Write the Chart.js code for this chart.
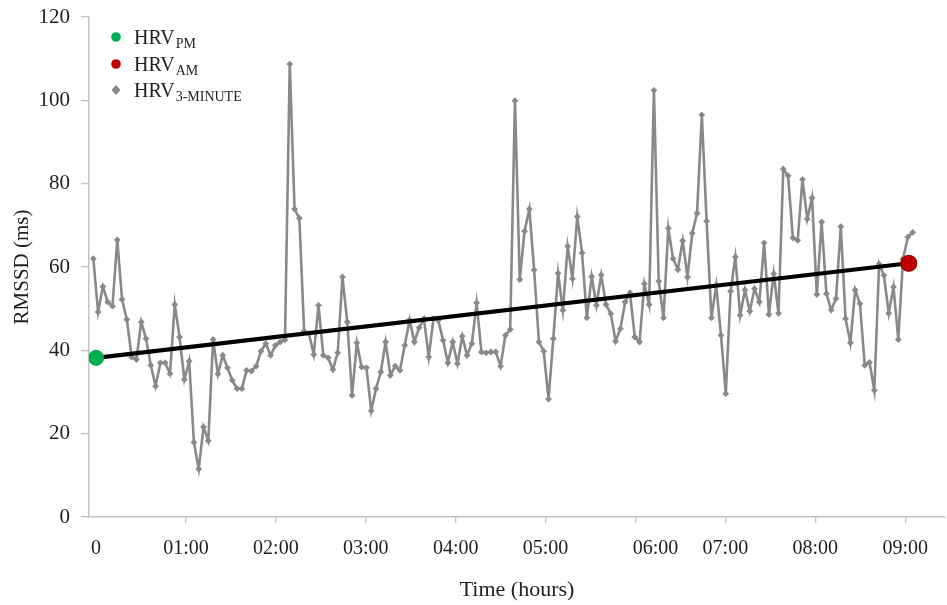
<!DOCTYPE html>
<html>
<head>
<meta charset="utf-8">
<script src="https://cdn.jsdelivr.net/npm/chart.js@4.4.1/dist/chart.umd.min.js"></script>
<style>
  html, body { margin: 0; padding: 0; background: #ffffff; }
  #wrap { width: 947px; height: 605px; }
</style>
</head>
<body>
<div id="wrap"><canvas id="c" width="947" height="605"></canvas></div>
<script>
// ---------------- data ----------------
// x-axis hour ticks
const hourTicks = [0, 1, 2, 3, 4, 5, 6, 7, 8, 9];
const hourLabels = ["0", "01:00", "02:00", "03:00", "04:00", "05:00", "06:00", "07:00", "08:00", "09:00"];
// y-axis ticks
const yTicks = [0, 20, 40, 60, 80, 100, 120];

// HRV 3-minute RMSSD samples (ms), in time order
const hrv3min = [
  62, 49.2, 55.3, 51.6, 50.6, 66.5, 52.2, 47.4, 38.4, 37.8,
  46.8, 42.8, 36.4, 31.4, 37, 37, 34.4, 51, 43.2, 33,
  37.4, 17.9, 11.5, 21.6, 18.3, 42.6, 34.3, 38.8, 35.8, 32.8,
  30.8, 30.8, 35.2, 35, 36.2, 39.8, 41.6, 38.8, 41.2, 42,
  42.5, 108.7, 73.9, 71.7, 44.6, 44, 39, 50.8, 38.8, 38.2,
  35.4, 39.4, 57.6, 46.8, 29.2, 41.8, 36, 35.8, 25.5, 30.8,
  34.8, 42, 34, 36.2, 35.2, 41.2, 47.3, 42, 45.4, 47.6,
  38.4, 47.6, 47.2, 42.4, 37, 42, 36.8, 43.4, 38.8, 41.6,
  51.4, 39.6, 39.4, 39.6, 39.6, 36.2, 43.6, 45, 99.9, 57,
  68.6, 73.9, 59.3, 42, 39.8, 28.3, 42.8, 58.5, 49.6, 65,
  57.2, 72.1, 63.4, 47.8, 57.7, 50.8, 58.1, 51, 48.8, 42.2,
  45.2, 51.6, 53.8, 43.2, 42, 56, 51, 102.4, 56.6, 47.8,
  69.3, 62, 59.4, 66.3, 57.6, 68.1, 72.9, 96.5, 71, 47.8,
  55.6, 43.6, 29.6, 54.2, 62.4, 48.4, 54.5, 49.4, 54.8, 51.6,
  65.8, 48.6, 58.4, 48.9, 83.5, 81.9, 67, 66.4, 81, 71.5,
  76.6, 53.4, 70.8, 53.6, 49.7, 52.4, 69.7, 47.6, 41.8, 54.5,
  51.2, 36.4, 37.1, 30.4, 60.7, 58, 48.9, 55.2, 42.6, 62,
  67.2, 68.3
];
// sampling grid of the 3-minute series (hours): first sample time and spacing
const sampleStartH = -0.031;
const sampleStepH = 0.0533;

// HRV PM (start of night) and HRV AM (end of night)
const hrvPM = { time: 0, value: 38.2 };
const hrvAM = { time: 9.04, value: 60.9 };

// legend entries
const legendMain = "HRV";
const legendSubs = ["PM", "AM", "3-MINUTE"];

// ---------------- styles ----------------
const GRAY = "#898989";
const GREEN = "#00b050";
const RED = "#c00000";
const AXIS = "#c3c3c3";
const TEXT = "#1f1f1f";
const SERIF = "'Liberation Serif', 'Times New Roman', Times, serif";

const hrvPoints = hrv3min.map((v, i) => ({ x: sampleStartH + i * sampleStepH, y: v }));

const subLegend = {
  id: 'subLegend',
  afterDatasetsDraw(chart) {
    const ctx = chart.ctx;
    const L = chart.chartArea.left, T = chart.chartArea.top;
    const rows = [
      { dy: 20, marker: 'circle', color: GREEN },
      { dy: 47, marker: 'circle', color: RED },
      { dy: 73, marker: 'diamond', color: GRAY }
    ];
    ctx.save();
    rows.forEach((r, i) => {
      const mx = L + 27, my = T + r.dy;
      ctx.fillStyle = r.color;
      ctx.beginPath();
      if (r.marker === 'circle') {
        ctx.arc(mx, my, 4.8, 0, Math.PI * 2);
      } else {
        ctx.moveTo(mx, my - 5); ctx.lineTo(mx + 4.5, my); ctx.lineTo(mx, my + 5); ctx.lineTo(mx - 4.5, my);
        ctx.closePath();
      }
      ctx.fill();
      ctx.fillStyle = TEXT;
      ctx.textBaseline = 'alphabetic';
      ctx.textAlign = 'left';
      ctx.font = "20px " + SERIF;
      const tx = L + 45;
      const base = my + 7;
      ctx.fillText(legendMain, tx, base);
      const w = ctx.measureText(legendMain).width;
      ctx.font = "14px " + SERIF;
      ctx.fillText(legendSubs[i], tx + w + 1, base + 4);
    });
    ctx.restore();
  }
};

new Chart(document.getElementById('c'), {
  type: 'scatter',
  data: {
    datasets: [
      {
        label: 'HRV PM',
        data: [{ x: hrvPM.time, y: hrvPM.value }],
        pointStyle: 'circle', pointRadius: 7.5,
        backgroundColor: GREEN, borderColor: '#00a048', borderWidth: 1,
        order: 0
      },
      {
        label: 'HRV AM',
        data: [{ x: hrvAM.time, y: hrvAM.value }],
        pointStyle: 'circle', pointRadius: 8,
        backgroundColor: RED, borderColor: '#900000', borderWidth: 1.2,
        order: 1
      },
      {
        label: 'trend',
        data: [{ x: hrvPM.time, y: hrvPM.value }, { x: hrvAM.time, y: hrvAM.value }],
        showLine: true, borderColor: '#000000', borderWidth: 4.2,
        pointRadius: 0, order: 2
      },
      {
        label: 'HRV 3-minute',
        data: hrvPoints,
        showLine: true, borderColor: GRAY, borderWidth: 2.6, tension: 0,
        pointStyle: 'rectRot', pointRadius: 3.4, backgroundColor: GRAY, pointBorderColor: GRAY, pointBorderWidth: 0,
        order: 3
      }
    ]
  },
  options: {
    responsive: false,
    animation: false,
    events: [],
    layout: { autoPadding: false, padding: { top: 17, right: 2, left: 0, bottom: 0 } },
    plugins: { legend: { display: false }, tooltip: { enabled: false } },
    scales: {
      x: {
        type: 'linear',
        min: -0.079, max: 9.443,
        afterBuildTicks: (s) => { s.ticks = hourTicks.map(v => ({ value: v })); },
        afterFit: (s) => { s.height = 88; s.paddingLeft = 0; s.paddingRight = 0; },
        ticks: {
          // the 06:00 label sits a little right of its tick in the original
          callback: (v) => (v === 6 ? '\u2002\u2002\u2002\u2002' : '') + hourLabels[hourTicks.indexOf(v)],
          font: { family: SERIF, size: 20 }, color: TEXT, padding: 14, maxRotation: 0, autoSkip: false
        },
        grid: {
          drawOnChartArea: false, drawTicks: true, tickLength: 6,
          color: (c) => (c.tick && c.tick.value === 0) ? 'rgba(0,0,0,0)' : AXIS, lineWidth: 1.3
        },
        border: { display: true, color: AXIS, width: 1.5 },
        title: {
          display: true, text: 'Time (hours)',
          font: { family: SERIF, size: 22 }, color: TEXT, padding: { top: 0, bottom: 2 }
        }
      },
      y: {
        min: 0, max: 120,
        afterBuildTicks: (s) => { s.ticks = yTicks.map(v => ({ value: v })); },
        afterFit: (s) => { s.width = 89; s.paddingTop = 0; s.paddingBottom = 0; },
        ticks: { font: { family: SERIF, size: 21 }, color: TEXT, padding: 11 },
        grid: { drawOnChartArea: false, drawTicks: true, tickLength: 8, color: AXIS, lineWidth: 1.3 },
        border: { display: true, color: AXIS, width: 1.5 },
        title: {
          display: true, text: 'RMSSD (ms)',
          font: { family: SERIF, size: 21 }, color: TEXT, padding: { top: 10, bottom: 0 }
        }
      }
    }
  },
  plugins: [subLegend]
});
</script>
</body>
</html>
